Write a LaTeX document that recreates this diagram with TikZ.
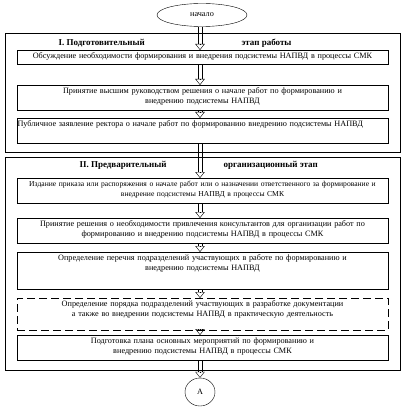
\documentclass[tikz,border=0pt]{standalone}
\usepackage{fontspec}
\setmainfont{Liberation Serif}
\usetikzlibrary{arrows.meta,shapes.geometric,calc}

\tikzset{
  stepbox/.style={draw, anchor=north, text width=367pt, align=center,
    inner xsep=2pt, inner ysep=2pt, text height=6pt},
  stagetitle/.style={anchor=west, font=\fontsize{9}{10}\selectfont\bfseries},
  dblhead/.style={-{Triangle[open,length=6pt,width=9.5pt]}}
}

\begin{document}
\begin{tikzpicture}[x=1pt,y=-1pt, font=\fontsize{8.2}{10}\selectfont]
    \useasboundingbox (0,0) rectangle (406,409);
    \coordinate (axis) at (200,0); % line of the arrows
    \node[draw, ellipse, minimum width=90pt, minimum height=23pt] (nachalo) at (202,15) {начало};
    % stage I
    \draw (5,33) rectangle (400,152);
    \node[stagetitle] (titleI) at (55,43) {I. Подготовительный};
    \node[stagetitle] (titleIb) at (238,43) {этап работы};
    \node[stepbox, text depth=4pt] (obsuzh) at (202.5,50)
        {Обсуждение необходимости формирования и внедрения подсистемы НАПВД в процессы СМК};
    \node[stepbox, text depth=15pt] (prinyatie) at (202.5,85)
        {Принятие высшим руководством решения о начале работ по формированию и\\ внедрению подсистемы НАПВД};
    \node[stepbox, text depth=15pt, align=left, inner xsep=0.5pt, text width=370pt] (publich) at (202.5,118)
        {Публичное заявление ректора о начале работ по формированию внедрению подсистемы НАПВД};
    % stage II
    \draw (5,157) rectangle (400,370);
    \node[stagetitle] (titleII) at (76,165) {II. Предварительный};
    \node[stagetitle] (titleIIb) at (220,165) {организационный этап};
    \node[stepbox, text depth=15pt, inner xsep=1pt, text width=369pt, font=\fontsize{7.6}{10}\selectfont] (prikaz) at (202.5,178)
        {Издание приказа или распоряжения о начале работ или о назначении ответственного за формирование и\\ внедрение подсистемы НАПВД в процессы СМК};
    \node[stepbox, text depth=15pt] (konsult) at (202.5,218)
        {Принятие решения о необходимости привлечения консультантов для организации работ по\\ формированию и внедрению подсистемы НАПВД в процессы СМК};
    \node[stepbox, text depth=27pt] (perechen) at (202.5,252)
        {Определение перечня подразделений участвующих в работе по формированию и\\ внедрению подсистемы НАПВД};
    \node[stepbox, dashed, dash pattern=on 8pt off 4pt, text depth=22pt] (poryadok) at (202.5,298)
        {Определение порядка подразделений участвующих в разработке документации\\ а также во внедрении подсистемы НАПВД в практическую деятельность};
    \node[stepbox, text depth=15pt] (plan) at (202.5,335)
        {Подготовка плана основных мероприятий по формированию и\\ внедрению подсистемы НАПВД в процессы СМК};
    \node[draw, ellipse, minimum width=30pt, minimum height=28pt] (A) at (200,392) {А};
    % arrows: two lines and an open head
    \foreach \from/\to in {nachalo/obsuzh, obsuzh/prinyatie, prinyatie/publich, publich/prikaz,
        prikaz/konsult, konsult/perechen, perechen/poryadok, poryadok/plan, plan/A} {
      \draw ($(axis |- \from.south)+(-2,0)$) -- ($(axis |- \to.north)+(-2,-6)$);
      \draw ($(axis |- \from.south)+(2,0)$) -- ($(axis |- \to.north)+(2,-6)$);
      \draw[dblhead] ($(axis |- \to.north)+(0,-6)$) -- (axis |- \to.north);
    }
\end{tikzpicture}
\end{document}
